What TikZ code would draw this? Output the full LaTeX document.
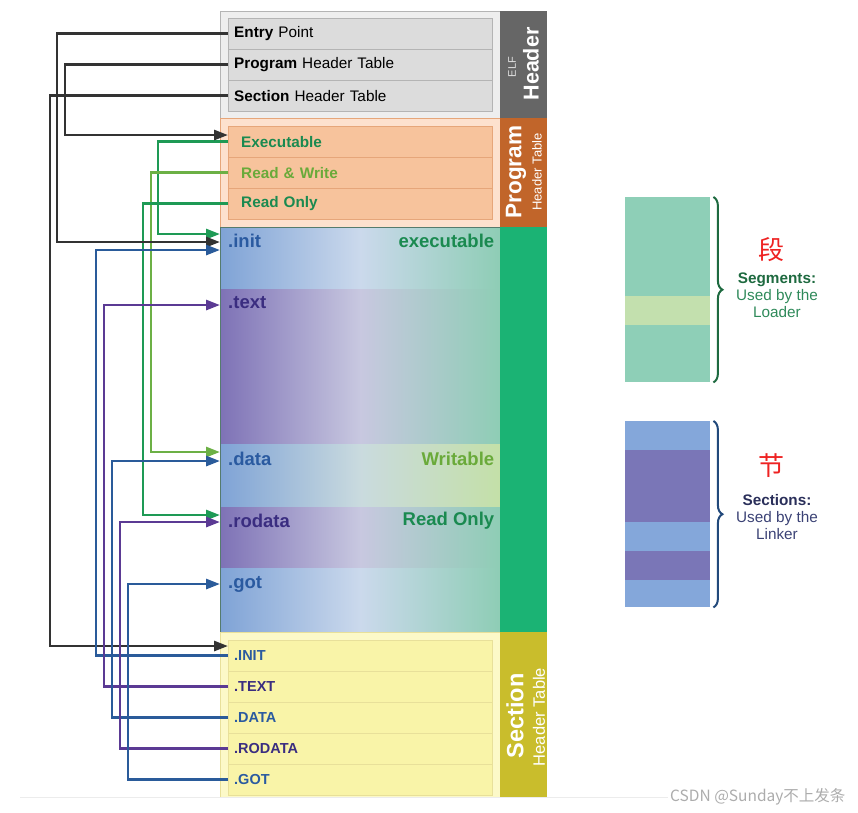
\documentclass[tikz,border=0pt]{standalone}
\usepackage{fontspec}
\setmainfont{Liberation Sans}
\newfontfamily\cjk{Noto Sans CJK SC}
\usepackage{xcolor}
\usepackage{tikz}
\usetikzlibrary{arrows.meta,positioning,calc,decorations.pathreplacing}
\definecolor{elfbarc}{HTML}{666666}
\definecolor{phbarc}{HTML}{C1652A}
\definecolor{secbarc}{HTML}{1BB374}
\definecolor{shbarc}{HTML}{C9BD2C}
\definecolor{hrowfill}{HTML}{DCDCDC}
\definecolor{hrowline}{HTML}{B4B4B4}
\definecolor{elfbg}{HTML}{EEEEEE}
\definecolor{prowfill}{HTML}{F7C39C}
\definecolor{prowline}{HTML}{E6A67A}
\definecolor{phbg}{HTML}{FDE1CE}
\definecolor{srowfill}{HTML}{F9F4A8}
\definecolor{srowline}{HTML}{E8E09A}
\definecolor{shbg}{HTML}{FCF9C8}
\definecolor{bandblue}{HTML}{7FA3D6}
\definecolor{bandbluemid}{HTML}{CBD9EC}
\definecolor{bandpur}{HTML}{7E72B6}
\definecolor{bandpurmid}{HTML}{C8C8E0}
\definecolor{bandteal}{HTML}{8ECDB5}
\definecolor{bandlime}{HTML}{C4E0A8}
\definecolor{txtblue}{HTML}{2A5AA0}
\definecolor{txtpur}{HTML}{3A2D80}
\definecolor{txtgreen}{HTML}{1A8A50}
\definecolor{txtlime}{HTML}{6AAA3A}
\definecolor{lnblack}{HTML}{333333}
\definecolor{lngreen}{HTML}{1E9A55}
\definecolor{lnlime}{HTML}{6CB045}
\definecolor{lnblue}{HTML}{2A5B9A}
\definecolor{lnpur}{HTML}{5B3A94}
\definecolor{segc}{HTML}{8ECFB7}
\definecolor{seglime}{HTML}{C3E0AE}
\definecolor{secblue}{HTML}{84A7DA}
\definecolor{secpur}{HTML}{7A76B7}
\definecolor{segdark}{HTML}{1E6A40}
\definecolor{segtext}{HTML}{2F8A5A}
\definecolor{secdark}{HTML}{2A2F5A}
\definecolor{sectext}{HTML}{3B4275}
\definecolor{cnred}{HTML}{EE2222}
\tikzset{
  hrow/.style={draw=hrowline, fill=hrowfill, anchor=north west, minimum width=264pt,
               minimum height=31pt, text width=252pt, inner xsep=6pt, inner ysep=0pt,
               align=left, font=\fontsize{15.3}{18}\selectfont},
  prow/.style={hrow, draw=prowline, fill=prowfill, text width=238pt, inner xsep=13pt,
               font=\fontsize{15.3}{18}\selectfont\bfseries},
  srow/.style={hrow, draw=srowline, fill=srowfill,
               font=\fontsize{14.5}{17}\selectfont\bfseries},
  outer/.style={anchor=north west, minimum width=280pt, inner sep=0pt},
  band/.style={anchor=north west, minimum width=280pt, inner sep=0pt},
  bar/.style={anchor=north west, minimum width=47pt, inner sep=0pt},
  bartitle/.style={rotate=90, text=white, inner sep=0pt,
                   font=\fontsize{22.5}{24}\selectfont\bfseries},
  barsub/.style={rotate=90, text=white, inner sep=0pt, font=\fontsize{13}{14}\selectfont},
  blbl/.style={anchor=west, inner sep=0pt, font=\fontsize{18.5}{20}\selectfont\bfseries},
  plbl/.style={anchor=east, inner sep=0pt, font=\fontsize{18.5}{20}\selectfont\bfseries},
  link/.style={line width=2.8pt, -{Triangle[length=14pt,width=10pt]}},
  legend/.style={anchor=north west, minimum width=85pt, inner sep=0pt},
  lgtext/.style={align=center, font=\fontsize{15.3}{17}\selectfont},
  cnlbl/.style={text=cnred, font=\cjk\fontsize{26}{28}\selectfont},
  lgbrace/.style={line width=2pt, decorate, decoration={brace, amplitude=9pt}},
}
\begin{document}
\begin{tikzpicture}[x=1pt, y=-1pt]
  \useasboundingbox (0,0) rectangle (858,812);
  % ELF header
  \node[outer, draw=hrowline, fill=elfbg, minimum height=107pt] (elfbox) at (220,11) {};
  \node[hrow] (entry) at (228,18) {\textbf{Entry} Point};
  \node[hrow] (pht) at (228,49) {\textbf{Program} Header Table};
  \node[hrow] (sht) at (228,80) {\textbf{Section} Header Table};
  \node[bar, fill=elfbarc, minimum height=107pt] (elfbar) at (500,11) {};
  \node[bartitle, font=\fontsize{21.5}{24}\selectfont\bfseries] (elft) at (531,64) {Header};
  \node[barsub, text=white!80!elfbarc, font=\fontsize{11}{12}\selectfont] (elfs) at (512,67) {ELF};
  % program header table
  \node[outer, draw=prowline, fill=phbg, minimum height=109pt] (phbox) at (220,118) {};
  \node[prow, text=txtgreen] (exe) at (228,126) {Executable};
  \node[prow, text=txtlime] (rw) at (228,157) {Read \& Write};
  \node[prow, text=txtgreen] (ro) at (228,188) {Read Only};
  \node[bar, fill=phbarc, minimum height=109pt] (phbar) at (500,118) {};
  \node[bartitle] (pht1) at (516,172) {Program};
  \node[barsub] (phs) at (537,172) {Header Table};
  % sections
  \node[band, left color=bandblue, right color=bandteal, middle color=bandbluemid,
        minimum height=62pt] (init) at (220,227) {};
  \node[band, left color=bandpur, right color=bandteal, middle color=bandpurmid,
        minimum height=155pt] (text) at (220,289) {};
  \node[band, left color=bandblue, right color=bandlime, middle color=bandbluemid!80!bandlime,
        minimum height=63pt] (data) at (220,444) {};
  \node[band, left color=bandpur, right color=bandteal, middle color=bandpurmid,
        minimum height=61pt] (rodata) at (220,507) {};
  \node[band, left color=bandblue, right color=bandteal, middle color=bandbluemid,
        minimum height=64pt] (got) at (220,568) {};
  \node[outer, draw=bandteal!60!black, minimum height=405pt] (secbox) at (220,227) {};
  \node[bar, fill=secbarc, minimum height=405pt] (secbar) at (500,227) {};
  \node[blbl, text=txtblue] (initlbl) at ([xshift=8pt,yshift=-14pt]init.north west) {.init};
  \node[blbl, text=txtpur] (textlbl) at ([xshift=8pt,yshift=-14pt]text.north west) {.text};
  \node[blbl, text=txtblue] (datalbl) at ([xshift=8pt,yshift=-15pt]data.north west) {.data};
  \node[blbl, text=txtpur] (rodatalbl) at ([xshift=8pt,yshift=-14pt]rodata.north west) {.rodata};
  \node[blbl, text=txtblue] (gotlbl) at ([xshift=8pt,yshift=-16pt]got.north west) {.got};
  \node[plbl, text=txtgreen] (exelbl) at ([xshift=-6pt,yshift=-14pt]init.north east) {executable};
  \node[plbl, text=txtlime] (wrlbl) at ([xshift=-6pt,yshift=-15pt]data.north east) {Writable};
  \node[plbl, text=txtgreen] (rolbl) at ([xshift=-6pt,yshift=-14pt]rodata.north east) {Read Only};
  % section header table
  \node[outer, draw=srowline, fill=shbg, minimum height=165pt] (shbox) at (220,632) {};
  \node[srow, text=txtblue] (INIT) at (228,640) {.INIT};
  \node[srow, text=txtpur] (TEXT) at (228,671) {.TEXT};
  \node[srow, text=txtblue] (DATA) at (228,702) {.DATA};
  \node[srow, text=txtpur] (RODATA) at (228,733) {.RODATA};
  \node[srow, text=txtblue] (GOT) at (228,764) {.GOT};
  \node[bar, fill=shbarc, minimum height=165pt] (shbar) at (500,632) {};
  \node[bartitle, font=\fontsize{23.5}{24}\selectfont\bfseries] (sht1) at (515,716) {Section};
  \node[barsub, font=\fontsize{16.5}{18}\selectfont] (shs) at (539,717) {Header Table};
  % links from the segments
  \draw[link, lngreen] (exe.west) -- ++(-70,0) |- ([yshift=-7pt]init.north west);
  \draw[link, lnlime] (rw.west) -- ++(-77,0) |- ([yshift=-8pt]data.north west);
  \draw[link, lngreen] (ro.west) -- ++(-85,0) |- ([yshift=-8pt]rodata.north west);
  % links from the ELF header
  \draw[link, lnblack] (entry.west) -- ++(-171,0) |- ([yshift=-15pt]init.north west);
  \draw[link, lnblack] (pht.west) -- ++(-163,0) |- ([yshift=-9pt]exe.north west);
  \draw[link, lnblack] (sht.west) -- ++(-178,0) |- ([yshift=-6pt]INIT.north west);
  % links from the section headers
  \draw[link, lnblue] (INIT.west) -- ++(-132,0) |- ([yshift=-23pt]init.north west);
  \draw[link, lnpur] (TEXT.west) -- ++(-124,0) |- ([yshift=-16pt]text.north west);
  \draw[link, lnblue] (DATA.west) -- ++(-116,0) |- ([yshift=-17pt]data.north west);
  \draw[link, lnpur] (RODATA.west) -- ++(-108,0) |- ([yshift=-15pt]rodata.north west);
  \draw[link, lnblue] (GOT.west) -- ++(-100,0) |- ([yshift=-16pt]got.north west);
  % legend: segments
  \node[legend, fill=segc, minimum height=99pt] (seg1) at (625,197) {};
  \node[legend, fill=seglime, minimum height=29pt] (seg2) at (625,296) {};
  \node[legend, fill=segc, minimum height=57pt] (seg3) at (625,325) {};
  \draw[lgbrace, segdark] ([xshift=3pt]seg1.north east) -- ([xshift=3pt]seg3.south east);
  \node[cnlbl] (segcn) at (771,250) {段};
  \node[lgtext, text=segtext] (segtxt) at (777,295)
    {\textcolor{segdark}{\textbf{Segments:}}\\Used by the\\Loader};
  % legend: sections
  \node[legend, fill=secblue, minimum height=29pt] (sec1) at (625,421) {};
  \node[legend, fill=secpur, minimum height=72pt] (sec2) at (625,450) {};
  \node[legend, fill=secblue, minimum height=29pt] (sec3) at (625,522) {};
  \node[legend, fill=secpur, minimum height=29pt] (sec4) at (625,551) {};
  \node[legend, fill=secblue, minimum height=27pt] (sec5) at (625,580) {};
  \draw[lgbrace, lnblue!80!black] ([xshift=3pt]sec1.north east) -- ([xshift=3pt]sec5.south east);
  \node[cnlbl] (seccn) at (771,466) {节};
  \node[lgtext, text=sectext] (sectxt) at (777,517)
    {\textcolor{secdark}{\textbf{Sections:}}\\Used by the\\Linker};
  % footer
  \draw[gray!15, line width=0.8pt] (20,797) -- (668,797);
  \node[anchor=west, inner sep=0pt, text=gray!65, font=\cjk\fontsize{15.5}{16}\selectfont]
    (mark) at (670,797) {CSDN @Sunday不上发条};
\end{tikzpicture}
\end{document}
